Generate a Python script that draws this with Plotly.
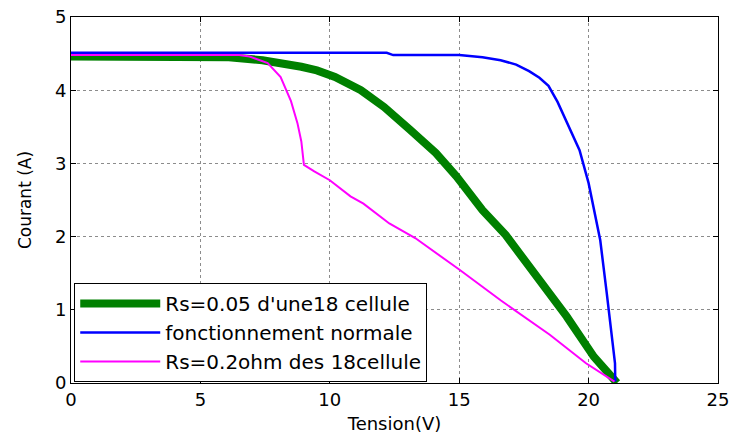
import plotly.graph_objects as go

# Data
v_green = [0, 6.1, 7.4, 8.2, 8.9, 9.5, 10.2, 11.2, 12.1, 13.1, 14.1, 14.9, 15.9, 16.8, 17.9, 19.15, 20.2, 20.95, 21.1]
i_green = [4.46, 4.45, 4.41, 4.37, 4.32, 4.27, 4.18, 4.00, 3.77, 3.46, 3.14, 2.82, 2.36, 2.02, 1.50, 0.91, 0.36, 0.05, 0.0]

v_blue = [0, 6, 12.2, 12.45, 15.0, 15.9, 16.6, 17.2, 17.7, 18.1, 18.45, 18.8, 19.15, 19.65, 20.0, 20.45, 20.7, 20.95, 21.02, 21.03]
i_blue = [4.51, 4.51, 4.51, 4.48, 4.48, 4.45, 4.41, 4.35, 4.26, 4.17, 4.06, 3.84, 3.57, 3.18, 2.73, 1.95, 1.23, 0.50, 0.27, 0.02]

v_mag = [0, 6.5, 6.9, 7.6, 8.1, 8.5, 8.75, 8.9, 9.0, 9.4, 10.0, 10.8, 11.3, 12.3, 13.3, 15.0, 16.6, 17.4, 18.5, 19.9, 21.0]
i_mag = [4.48, 4.48, 4.46, 4.37, 4.18, 3.85, 3.55, 3.30, 2.98, 2.89, 2.77, 2.55, 2.45, 2.18, 1.98, 1.55, 1.13, 0.93, 0.66, 0.27, 0.02]

names = ["Rs=0.05 d'une18 cellule", "fonctionnement normale", "Rs=0.2ohm des 18cellule"]

fig = go.Figure()
fig.add_trace(go.Scatter(x=v_green, y=i_green, mode="lines", name=names[0],
                         line=dict(color="#008000", width=8)))
fig.add_trace(go.Scatter(x=v_blue, y=i_blue, mode="lines", name=names[1],
                         line=dict(color="#0000ff", width=2.5)))
fig.add_trace(go.Scatter(x=v_mag, y=i_mag, mode="lines", name=names[2],
                         line=dict(color="#ff00ff", width=2)))

FONT = "DejaVu Sans, Liberation Sans, Arial, sans-serif"

axis_common = dict(
    showline=True, linecolor="black", linewidth=1, mirror="ticks",
    ticks="inside", ticklen=5, tickcolor="black",
    showgrid=True, gridcolor="#8c8c8c", griddash="dot", gridwidth=1,
    zeroline=False, tickfont=dict(size=18, color="black"), automargin=False,
)

fig.update_layout(
    width=731, height=443,
    margin=dict(l=71, r=13, t=17, b=60),
    paper_bgcolor="white", plot_bgcolor="white",
    font=dict(family=FONT, color="black"),
    xaxis=dict(range=[0, 25], dtick=5, title=dict(text="Tension(V)", font=dict(size=18), standoff=8),
               **axis_common),
    yaxis=dict(range=[0, 5], dtick=1, title=dict(text="Courant (A)", font=dict(size=17), standoff=18),
               **axis_common),
    legend=dict(x=0.005, y=0.273, xanchor="left", yanchor="top",
                bgcolor="white", bordercolor="black", borderwidth=1,
                font=dict(size=20), tracegroupgap=0, itemwidth=80),
    showlegend=True,
)

fig.write_html("out.html")
